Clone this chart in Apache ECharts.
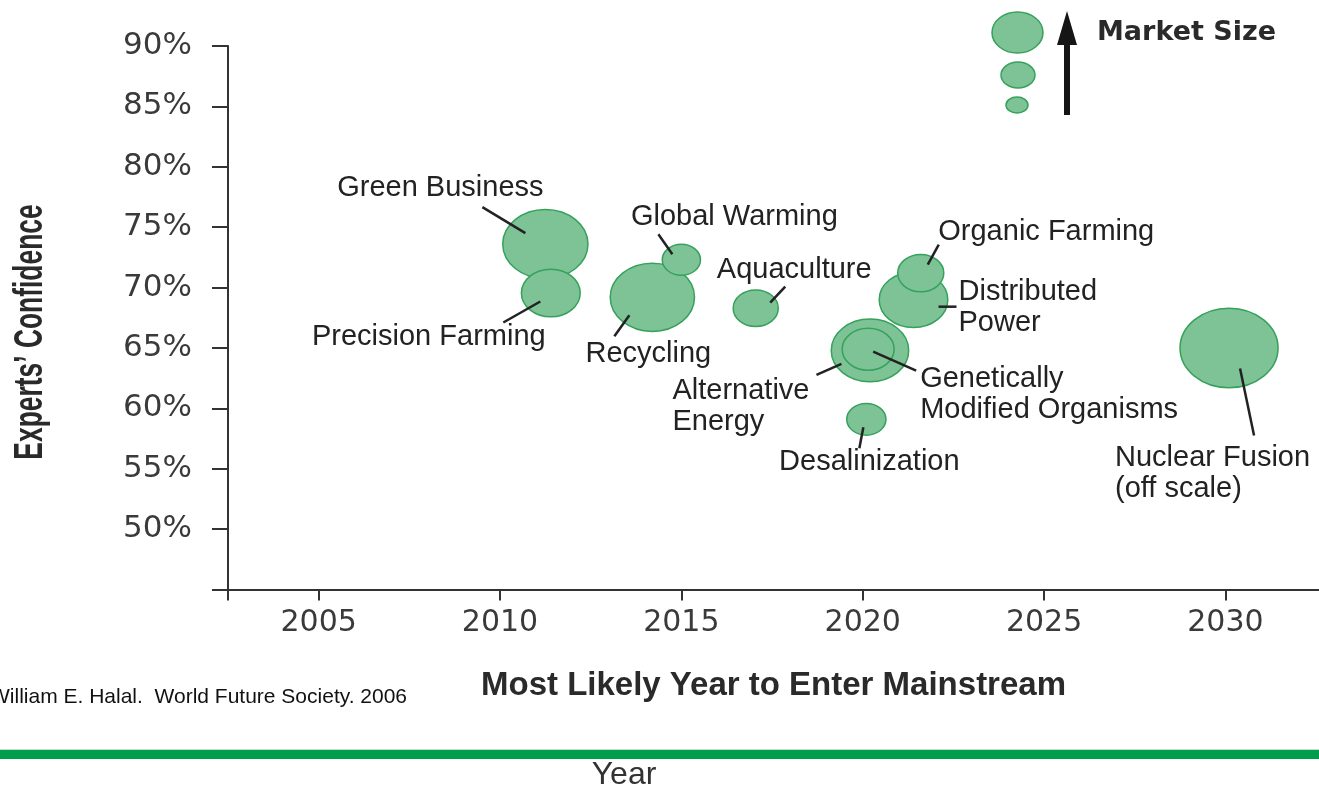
<!DOCTYPE html>
<html>
<head>
<meta charset="utf-8">
<title>Emerging green technologies</title>
<script src="https://cdn.jsdelivr.net/npm/echarts@6/dist/echarts.min.js"></script>
<style>
  html, body { margin: 0; padding: 0; background: #ffffff; }
  #chart { width: 1319px; height: 791px; }
</style>
</head>
<body>
<div id="chart"></div>
<script>
// Technologies, in drawing order (later bubbles sit on top of earlier ones)
const technologies = [
  'Green Business', 'Precision Farming', 'Recycling', 'Global Warming',
  'Aquaculture', 'Distributed Power', 'Organic Farming', 'Alternative Energy',
  'Genetically Modified Organisms', 'Desalinization', 'Nuclear Fusion'
];
// Text shown next to each bubble
const calloutText = [
  'Green Business', 'Precision Farming', 'Recycling', 'Global Warming',
  'Aquaculture', 'Distributed\nPower', 'Organic Farming', 'Alternative\nEnergy',
  'Genetically\nModified Organisms', 'Desalinization', 'Nuclear Fusion\n(off scale)'
];
// Most likely year to enter the mainstream
const mainstreamYear = [2011.25, 2011.4, 2014.2, 2015.0, 2017.05, 2021.4, 2021.6, 2020.2, 2020.15, 2020.1, 2030.1];
// Experts' confidence, percent
const confidence = [73.6, 69.55, 69.2, 72.3, 68.3, 69.0, 71.2, 64.8, 64.9, 59.1, 65.0];
// Relative market size (largest = 100)
const marketSize = [87, 60, 86, 39, 46, 70, 47, 79, 53, 40, 100];

// Axis ticks
const yearTicks = [2005, 2010, 2015, 2020, 2025, 2030];
const confidenceTicks = [50, 55, 60, 65, 70, 75, 80, 85, 90];

const X_MIN = 2002.5, X_MAX = 2032.58;
const Y_MIN = 45, Y_MAX = 90;

// Drawing constants
const PX_PER_SIZE = 0.98;      // bubble width per market-size unit
const BUBBLE_ASPECT = 0.81;    // bubbles are drawn as slightly flattened ellipses
const bubbleStyle = { fill: '#7ec396', stroke: '#35a15b', lineWidth: 1.5 };
const INK = '#222222';
const LABEL_FONT = '29px "Liberation Sans", Arial, Helvetica, sans-serif';

// Callout placement, pixel offsets from each bubble centre:
// t = text anchor, a = text alignment, l = leader line [x1, y1, x2, y2]
const CALLOUT = [
  { t: [-105, -56], a: 'center', l: [-63, -37, -20, -11] },
  { t: [-122, 43.5], a: 'center', l: [-47.5, 29.5, -10.5, 8.5] },
  { t: [-4, 57], a: 'center', l: [-38, 39, -23, 18] },
  { t: [53, -42.5], a: 'center', l: [-23, -25.5, -9, -5.5] },
  { t: [38.5, -38.5], a: 'center', l: [29.5, -21.5, 14.5, -5.5] },
  { t: [45, 7.5], a: 'left', l: [25, 7, 43, 7] },
  { t: [125.5, -41.5], a: 'center', l: [18, -28.5, 7, -8.5] },
  { t: [-197.5, 56], a: 'left', l: [-53.5, 24.5, -28.5, 13.5] },
  { t: [52, 45.5], a: 'left', l: [5, 2.5, 48, 21.5] },
  { t: [3, 43], a: 'center', l: [-3, 8, -7, 29] },
  { t: [-114, 125], a: 'left', l: [11, 20.5, 25, 87.5] }
];

const bubbleData = technologies.map((name, i) => ({
  name: name,
  value: [mainstreamYear[i], confidence[i], marketSize[i]]
}));

function renderBubble(params, api) {
  const c = api.coord([api.value(0), api.value(1)]);
  const w = api.value(2) * PX_PER_SIZE;
  return {
    type: 'ellipse',
    shape: { cx: c[0], cy: c[1], rx: w / 2, ry: w * BUBBLE_ASPECT / 2 },
    style: bubbleStyle
  };
}

function renderCallout(params, api) {
  const c = api.coord([api.value(0), api.value(1)]);
  const o = CALLOUT[params.dataIndex];
  return {
    type: 'group',
    children: [
      {
        type: 'line',
        shape: { x1: c[0] + o.l[0], y1: c[1] + o.l[1], x2: c[0] + o.l[2], y2: c[1] + o.l[3] },
        style: { stroke: INK, lineWidth: 2.5 }
      },
      {
        type: 'text',
        x: c[0] + o.t[0],
        y: c[1] + o.t[1],
        style: {
          text: calloutText[params.dataIndex],
          fill: INK,
          font: LABEL_FONT,
          align: o.a,
          verticalAlign: 'middle',
          lineHeight: 31
        }
      }
    ]
  };
}

const axisInk = { color: '#333333', width: 2 };

const option = {
  animation: false,
  backgroundColor: '#ffffff',
  grid: { left: 228, right: 0, top: 46, bottom: 201.4, outerBoundsMode: 'none' },
  xAxis: {
    type: 'value',
    min: X_MIN,
    max: X_MAX,
    name: 'Most Likely Year to Enter Mainstream',
    nameLocation: 'middle',
    nameGap: 96,
    nameTextStyle: {
      fontFamily: '"Liberation Sans", Arial, Helvetica, sans-serif',
      fontWeight: 'bold',
      fontSize: 33,
      color: '#2a2a2a',
      verticalAlign: 'middle'
    },
    splitLine: { show: false },
    axisLine: { show: true, lineStyle: axisInk },
    axisTick: { show: true, inside: false, length: 11, customValues: [X_MIN].concat(yearTicks), lineStyle: axisInk },
    axisLabel: {
      customValues: yearTicks,
      formatter: (v) => String(v),
      margin: 19,
      fontFamily: '"DejaVu Sans", sans-serif',
      fontSize: 30,
      color: '#3a3a3a'
    }
  },
  yAxis: {
    type: 'value',
    min: Y_MIN,
    max: Y_MAX,
    interval: 5,
    splitLine: { show: false },
    axisLine: { show: true, lineStyle: axisInk },
    axisTick: { show: true, inside: false, length: 16, lineStyle: axisInk },
    axisLabel: {
      customValues: confidenceTicks,
      formatter: (v) => v + '%',
      margin: 36,
      padding: [4, 0, 0, 0],
      fontFamily: '"DejaVu Sans", sans-serif',
      fontSize: 31,
      color: '#3a3a3a'
    }
  },
  series: [
    {
      name: 'Market size',
      type: 'custom',
      renderItem: renderBubble,
      data: bubbleData,
      encode: { x: 0, y: 1 },
      z: 2
    },
    {
      name: 'Callouts',
      type: 'custom',
      renderItem: renderCallout,
      data: bubbleData,
      encode: { x: 0, y: 1 },
      z: 3,
      silent: true
    }
  ],
  graphic: [
    // vertical axis title, set in a condensed bold face
    {
      type: 'text',
      x: 31, y: 332,
      rotation: Math.PI / 2,
      scaleX: 0.66,
      style: {
        text: 'Experts\u2019 Confidence',
        font: 'bold 40px "Liberation Sans", Arial, sans-serif',
        fill: '#2a2a2a',
        align: 'center',
        verticalAlign: 'middle'
      }
    },
    // market-size key
    { type: 'ellipse', shape: { cx: 1017.5, cy: 32.5, rx: 25.5, ry: 20.5 }, style: bubbleStyle },
    { type: 'ellipse', shape: { cx: 1018, cy: 75, rx: 17, ry: 13 }, style: bubbleStyle },
    { type: 'ellipse', shape: { cx: 1017, cy: 105, rx: 11, ry: 8 }, style: bubbleStyle },
    {
      type: 'polygon',
      shape: { points: [[1067, 11], [1077, 45], [1070, 45], [1070, 115], [1064, 115], [1064, 45], [1057, 45]] },
      style: { fill: '#151515' }
    },
    {
      type: 'text',
      x: 1097, y: 33,
      style: {
        text: 'Market Size',
        font: 'bold 27px "DejaVu Sans", sans-serif',
        fill: '#2a2a2a',
        align: 'left',
        verticalAlign: 'middle'
      }
    },
    // source line
    {
      type: 'text',
      x: -10, y: 697,
      style: {
        text: 'William E. Halal.  World Future Society. 2006',
        font: '21px "Liberation Sans", Arial, sans-serif',
        fill: '#111111',
        align: 'left',
        verticalAlign: 'middle'
      }
    },
    // green rule
    { type: 'rect', shape: { x: 0, y: 749, width: 1319, height: 1 }, style: { fill: '#bfe0c9' } },
    { type: 'rect', shape: { x: 0, y: 750, width: 1319, height: 9 }, style: { fill: '#009e4c' } },
    {
      type: 'text',
      x: 624, y: 775,
      style: {
        text: 'Year',
        font: '32px "Liberation Sans", Arial, sans-serif',
        fill: '#333333',
        align: 'center',
        verticalAlign: 'middle'
      }
    }
  ]
};

const chart = echarts.init(document.getElementById('chart'), null, { renderer: 'canvas' });
chart.setOption(option);
</script>
</body>
</html>
